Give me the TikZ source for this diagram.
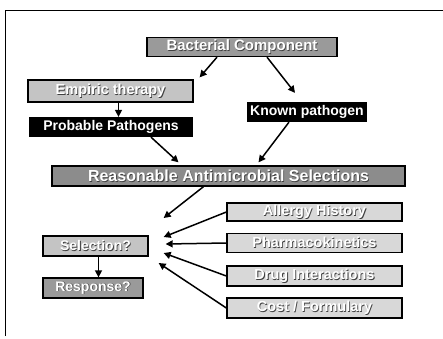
\documentclass[tikz,border=0pt]{standalone}
\usepackage{fontspec}
\setmainfont{Liberation Sans}
\usetikzlibrary{arrows.meta}
\definecolor{gmid}{HTML}{9A9A9A}
\definecolor{gdark}{HTML}{8C8C8C}
\definecolor{glight}{HTML}{C4C4C4}
\definecolor{gpale}{HTML}{D8D8D8}
\newcommand\shtext[1]{\makebox[0pt][l]{\hspace{0.8pt}\raisebox{-0.8pt}{\color{black!75}#1}}\textcolor{white}{#1}}
\begin{document}
\begin{tikzpicture}[x=1pt,y=-1pt,
  box/.style={draw=black, line width=1.3pt, inner sep=0pt, minimum height=19pt,
    font=\bfseries\fontsize{14.5}{14.5}\selectfont},
  darkbox/.style={box, fill=black, text=white, font=\bfseries\fontsize{14}{14}\selectfont},
  arrow/.style={-{Triangle[length=7pt,width=7pt]}, line width=1.5pt}]
\useasboundingbox (0,0) rectangle (443,338);
\draw[line width=0.8pt] (5,336) -- (5,10) -- (443,10);

\node[box, fill=gmid, minimum width=190pt, font=\bfseries\fontsize{15}{15}\selectfont] (bc) at (242,47) {\shtext{Bacterial Component}};
\node[box, fill=glight, minimum width=165pt, minimum height=22pt, font=\bfseries\fontsize{14.5}{14.5}\selectfont] (emp) at (110.5,91) {\shtext{Empiric therapy}};
\node[darkbox, minimum width=162pt] (pp) at (111,127) {Probable Pathogens};
\node[darkbox, minimum width=118pt] (kp) at (307,112) {Known pathogen};
\node[box, fill=gdark, minimum width=353pt, minimum height=20pt, font=\bfseries\fontsize{16}{16}\selectfont] (rs) at (228.5,176) {\shtext{Reasonable Antimicrobial Selections}};
\node[box, fill=glight, minimum width=105pt, minimum height=20pt, font=\bfseries\fontsize{14}{14}\selectfont] (lb) at (95.5,246) {\shtext{Selection?}};
\node[box, fill=gmid, minimum width=100pt, minimum height=20pt, font=\bfseries\fontsize{14}{14}\selectfont] (rp) at (93,288) {\shtext{Response?}};
\node[box, fill=gpale, minimum width=175pt, minimum height=18pt] (r1) at (314.5,212) {\shtext{Allergy History}};
\node[box, fill=gpale, minimum width=175pt, minimum height=19pt] (r2) at (314.5,243) {\shtext{Pharmacokinetics}};
\node[box, fill=gpale, minimum width=175pt, minimum height=20pt] (r3) at (314.5,276) {\shtext{Drug Interactions}};
\node[box, fill=gpale, minimum width=175pt, minimum height=20pt] (r4) at (314.5,308) {\shtext{Cost / Formulary}};

\draw[arrow] ([xshift=-25pt]bc.south) -- ([shift={(6,-2)}]emp.north east);
\draw[arrow] ([xshift=25pt]bc.south) -- ([shift={(-12,-9)}]kp.north);
\draw[arrow] ([xshift=8pt]emp.south) -- ([xshift=8pt]emp.south |- pp.north);
\draw[arrow] ([xshift=40pt]pp.south) -- ([shift={(-50,-3)}]rs.north);
\draw[arrow] ([xshift=-18pt]kp.south) -- ([shift={(30,-3)}]rs.north);
\draw[arrow] ([xshift=-25pt]rs.south) -- ([shift={(15,-28)}]lb.east);
\draw[arrow] (r1.west) -- ([shift={(15,-9)}]lb.east);
\draw[arrow] (r2.west) -- ([shift={(17,-2)}]lb.east);
\draw[arrow] (r3.west) -- ([shift={(15,7)}]lb.east);
\draw[arrow] (r4.west) -- ([shift={(10,17)}]lb.east);
\draw[arrow] ([xshift=3pt]lb.south) -- ([xshift=3pt]lb.south |- rp.north);
\end{tikzpicture}
\end{document}
